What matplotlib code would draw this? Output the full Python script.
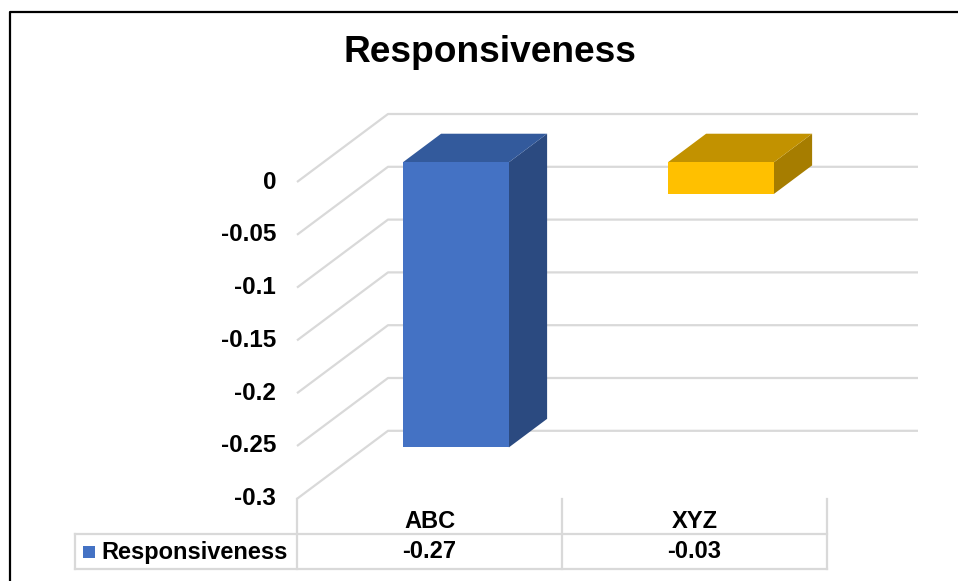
import matplotlib
matplotlib.use("Agg")
import matplotlib.pyplot as plt
from matplotlib.patches import Polygon, Rectangle
from matplotlib.lines import Line2D

# ---- data ----
categories = ["ABC", "XYZ"]
values = [-0.27, -0.03]
series_name = "Responsiveness"
title = "Responsiveness"
ticks = [0, -0.05, -0.1, -0.15, -0.2, -0.25, -0.3]
tick_labels = ["0", "-0.05", "-0.1", "-0.15", "-0.2", "-0.25", "-0.3"]
value_labels = ["-0.27", "-0.03"]

# ---- style ----
front_colors = ["#4472C4", "#FFC000"]
top_colors = ["#335A9C", "#C29200"]
side_colors = ["#2B4A80", "#A67D00"]
grid_color = "#D9D9D9"
plt.rcParams["font.family"] = ["Liberation Sans", "DejaVu Sans"]

W, H = 958, 581
fig = plt.figure(figsize=(W / 100, H / 100), dpi=100)
ax = fig.add_axes([0, 0, 1, 1])
ax.set_axis_off()

# data space: one unit per category on x, value units on y
PX_CAT = 265.0
X0_PX = 297.0
PX_VAL = 1056.0
Y0_PX = 182.0
ax.set_xlim(-0.5 - X0_PX / PX_CAT, -0.5 + (W - X0_PX) / PX_CAT)
ax.set_ylim(-(H - Y0_PX) / PX_VAL, Y0_PX / PX_VAL)

# oblique depth offset (full depth = 1)
DX = 91.0 / PX_CAT
DY = 68.0 / PX_VAL


def proj(x, v, d):
    return (x + d * DX, v + d * DY)


vmin = min(ticks)
n = len(categories)
left, right = -0.5, n - 0.5

# side wall and back wall gridlines
for t in ticks:
    pts = [proj(left, t, 0), proj(left, t, 1), proj(right, t, 1)]
    ax.plot([p[0] for p in pts], [p[1] for p in pts], color=grid_color,
            lw=1.6, solid_capstyle="butt", zorder=1)

# y tick labels
for t, lab in zip(ticks, tick_labels):
    ax.text(left - 21 / PX_CAT, t, lab, ha="right", va="center",
            fontsize=17.5, fontweight="bold", color="black")

# 3D columns
half_w = 0.2
d1, d2 = 0.29, 0.71
for i, val in enumerate(values):
    xl, xr = i - half_w, i + half_w
    top, bot = max(0, val), min(0, val)
    side = [proj(xr, top, d1), proj(xr, top, d2), proj(xr, bot, d2), proj(xr, bot, d1)]
    topf = [proj(xl, top, d1), proj(xr, top, d1), proj(xr, top, d2), proj(xl, top, d2)]
    front = [proj(xl, bot, d1), proj(xr, bot, d1), proj(xr, top, d1), proj(xl, top, d1)]
    ax.add_patch(Polygon(side, closed=True, fc=side_colors[i], ec="none", zorder=3))
    ax.add_patch(Polygon(topf, closed=True, fc=top_colors[i], ec="none", zorder=3))
    ax.add_patch(Polygon(front, closed=True, fc=front_colors[i], ec="none", zorder=4))

# data table below the plot
v_row = -(534 - Y0_PX) / PX_VAL
v_bot = -(569 - Y0_PX) / PX_VAL
x_leg = left - (X0_PX - 75) / PX_CAT
for xv in [left + k for k in range(n + 1)]:
    ax.plot([xv, xv], [vmin, v_bot], color=grid_color, lw=1.6, zorder=1)
ax.plot([x_leg, x_leg], [v_row, v_bot], color=grid_color, lw=1.6, zorder=1)
for yv in (v_row, v_bot):
    ax.plot([x_leg, right], [yv, yv], color=grid_color, lw=1.6, zorder=1)

v_head = -(521 - Y0_PX) / PX_VAL
v_val = -(552 - Y0_PX) / PX_VAL
for i, (cat, lab) in enumerate(zip(categories, value_labels)):
    ax.text(i, v_head, cat, ha="center", va="center", fontsize=17, fontweight="bold")
    ax.text(i, v_val, lab, ha="center", va="center", fontsize=17, fontweight="bold")

# legend key in the table
sq = 12.0
kx = x_leg + 8 / PX_CAT
ax.add_patch(Rectangle((kx, v_val - sq / 2 / PX_VAL), sq / PX_CAT, sq / PX_VAL,
                       fc=front_colors[0], ec="none", zorder=3))
ax.text(kx + (sq + 6) / PX_CAT, v_val, series_name, ha="left", va="center",
        fontsize=17, fontweight="bold")

# title
fig.text(490 / W, 1 - 53 / H, title, ha="center", va="center",
         fontsize=26.7, fontweight="bold")

# outer chart border (left and top)
fig.add_artist(Line2D([10 / W, 10 / W, 1], [0, 1 - 12 / H, 1 - 12 / H],
                      transform=fig.transFigure, color="black", lw=1.6))

fig.savefig("out.png", dpi=100)
